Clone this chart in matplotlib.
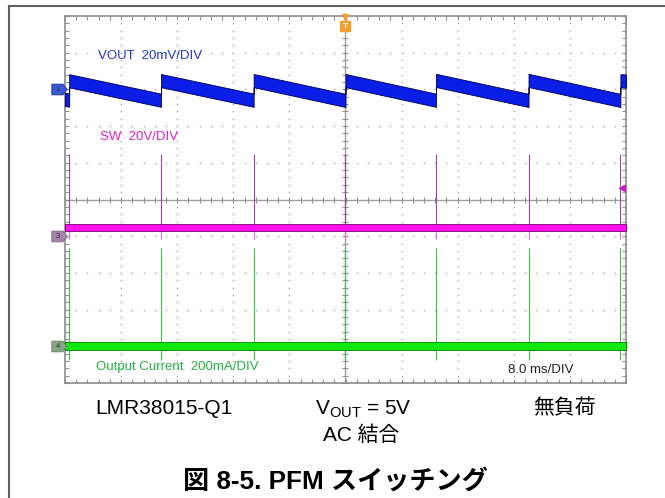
import numpy as np
import matplotlib
matplotlib.use("Agg")
import matplotlib.pyplot as plt
from matplotlib.lines import Line2D

plt.rcParams['font.family'] = ['Liberation Sans', 'Noto Sans CJK JP']
plt.rcParams['mathtext.fontset'] = 'custom'
plt.rcParams['mathtext.rm'] = 'Liberation Sans'

#%% datos (8 ms/div, 10 x 10 div)
t_switch_ms = [-39.4, -26.3, -13.1, 0.0, 12.9, 26.1, 39.2]

# VOUT (acoplado AC, mV) : tramos de diente de sierra
vout_t_ms = [-40.0, -39.4, -39.4, -26.3, -26.3, -13.1, -13.1, 0.0,
             0.0, 12.9, 12.9, 26.1, 26.1, 39.2, 39.2, 40.0]
vout_mv = [-5.5, -5.8, 4.7, -5.9, 4.8, -5.9, 4.8, -6.0,
           4.8, -5.9, 4.9, -6.0, 4.9, -6.0, 4.7, 4.5]
vout_ruido_mv = 3.6

# SW (V)
sw_t_ms = [-40.0, 40.0]
sw_v = [5.0, 5.0]
sw_ruido_v = 1.9
sw_pico_v = 45.0
sw_valle_v = -1.5

# corriente de salida (mA)
io_t_ms = [-40.0, 40.0]
io_ma = [0.0, 0.0]
io_ruido_ma = 22.0
io_pico_ma = 536.0
io_valle_ma = -75.0

# escalas y offsets de canal (div)
esc_vout, off_vout = 20.0, 3.0
esc_sw, off_sw = 20.0, -1.0
esc_io, off_io = 200.0, -4.0


def a_div(valores, esc, off):
    return off + np.asarray(valores, dtype=float) / esc


#%%
fig = plt.figure(figsize=(6.65, 4.98), dpi=100)
ax = fig.add_axes([65 / 665, 1 - 383 / 498, 561 / 665, 367 / 498])
ax.set_xlim(-40, 40)
ax.set_ylim(-5, 5)

# reticula punteada
gris = '#a8a8a8'
ys_pts = np.arange(-5, 5.01, 0.2)
xs_pts = np.arange(-40, 40.01, 1.6)
for xv in np.arange(-32, 33, 8):
    if xv != 0:
        ax.plot(np.full_like(ys_pts, xv), ys_pts, ls='none', marker='s',
                ms=1.0, color=gris, mew=0)
for yv in np.arange(-4, 5, 1):
    if yv != 0:
        ax.plot(xs_pts, np.full_like(xs_pts, yv), ls='none', marker='s',
                ms=1.0, color=gris, mew=0)
ax.axhline(0, color='#a0a0a0', lw=1.0, zorder=1)
ax.axvline(0, color='#a0a0a0', lw=1.0, zorder=1)
ax.plot(xs_pts, np.zeros_like(xs_pts), ls='none', marker='|', ms=4,
        color='#909090', mew=0.8)
ax.plot(np.zeros_like(ys_pts), ys_pts, ls='none', marker='_', ms=4,
        color='#909090', mew=0.8)

ax.set_xticks(xs_pts)
ax.set_yticks(ys_pts)
ax.tick_params(direction='in', length=3, width=0.8, color='#909090',
               top=True, right=True, labelbottom=False, labelleft=False)
for s in ax.spines.values():
    s.set_color('#8c8c8c')
    s.set_linewidth(1.2)

# picos de conmutacion
ax.vlines(t_switch_ms, a_div(sw_v[0], esc_sw, off_sw),
          a_div(sw_pico_v, esc_sw, off_sw), color='#a040a8', lw=0.8, zorder=3)
ax.vlines(t_switch_ms, a_div(sw_valle_v, esc_sw, off_sw),
          a_div(sw_v[0], esc_sw, off_sw), color='#e070e0', lw=0.8, zorder=3)
ax.vlines(t_switch_ms, a_div(io_valle_ma, esc_io, off_io),
          a_div(io_pico_ma, esc_io, off_io), color='#40c040', lw=0.8, zorder=3)

# trazas
v = np.asarray(vout_mv)
ax.fill_between(vout_t_ms, a_div(v - vout_ruido_mv, esc_vout, off_vout),
                a_div(v + vout_ruido_mv, esc_vout, off_vout),
                facecolor='#0a1ee6', edgecolor='#000050', lw=0.6, zorder=4)
s = np.asarray(sw_v)
ax.fill_between(sw_t_ms, a_div(s - sw_ruido_v, esc_sw, off_sw),
                a_div(s + sw_ruido_v, esc_sw, off_sw),
                facecolor='#ff10f0', edgecolor='#800070', lw=0.6, zorder=4)
i = np.asarray(io_ma)
ax.fill_between(io_t_ms, a_div(i - io_ruido_ma, esc_io, off_io),
                a_div(i + io_ruido_ma, esc_io, off_io),
                facecolor='#10e810', edgecolor='#008000', lw=0.6, zorder=4)

# etiquetas de canal
ax.text(-35.3, 3.91, 'VOUT  20mV/DIV', color='#2035d0', fontsize=9.5,
        va='center', ha='left')
ax.text(-35.0, 1.70, 'SW  20V/DIV', color='#e020c8', fontsize=9.5,
        va='center', ha='left')
ax.text(-35.6, -4.56, 'Output Current  200mA/DIV', color='#20b040',
        fontsize=9.5, va='center', ha='left')
ax.text(23.2, -4.65, '8.0 ms/DIV', color='#202020', fontsize=9.5,
        va='center', ha='left')

# marcadores de canal
tab = [(-1, -0.7), (0.45, -0.7), (1, 0), (0.45, 0.7), (-1, 0.7), (-1, -0.7)]
ytr = ax.get_yaxis_transform()
for off, fc, ec, nombre in [(off_vout, '#3a5ad8', '#1a2a90', '1'),
                            (off_sw, '#a585ab', '#806080', '3'),
                            (off_io, '#85a585', '#608060', '4')]:
    ax.plot([-0.0107], [off], marker=tab, ms=11, color=fc, mec=ec, mew=0.6,
            transform=ytr, clip_on=False, zorder=6)
    ax.text(-0.0125, off, nombre, transform=ytr, fontsize=5.5,
            color='#303030', ha='center', va='center', clip_on=False, zorder=7)

xtr = ax.get_xaxis_transform()
ax.plot([0], [0.997], marker='v', ms=5, color='#f0a030', transform=xtr,
        clip_on=False, zorder=6)
ax.plot([0], [0.972], marker='s', ms=7.5, color='#f0a030', transform=xtr,
        clip_on=False, zorder=6)
ax.text(0, 0.971, 'T', transform=xtr, fontsize=6, color='white',
        ha='center', va='center', fontweight='bold', zorder=7)
ax.plot([39.4], [0.31], marker='<', ms=4, color='#c020c0', zorder=6)

# marco exterior
fig.add_artist(Line2D([9 / 665, 1], [1 - 6 / 498, 1 - 6 / 498],
                      color='#606060', lw=1.5))
fig.add_artist(Line2D([9 / 665, 9 / 665], [0, 1 - 6 / 498],
                      color='#606060', lw=1.5))

# textos inferiores
fig.text(95 / 665, 1 - 414 / 498, 'LMR38015-Q1', fontsize=15,
         ha='left', va='baseline')
fig.text(315 / 665, 1 - 414 / 498, r'V$_\mathrm{OUT}$ = 5V', fontsize=15,
         ha='left', va='baseline')
fig.text(533 / 665, 1 - 409 / 498, '無負荷', fontsize=15,
         ha='left', va='center')
fig.text(323 / 665, 1 - 435 / 498, 'AC 結合', fontsize=15,
         ha='left', va='center')
fig.text(335 / 665, 1 - 481 / 498, '図 8-5. PFM スイッチング', fontsize=18.8,
         fontweight='bold', ha='center', va='center')

fig.savefig('out.png', dpi=100)
